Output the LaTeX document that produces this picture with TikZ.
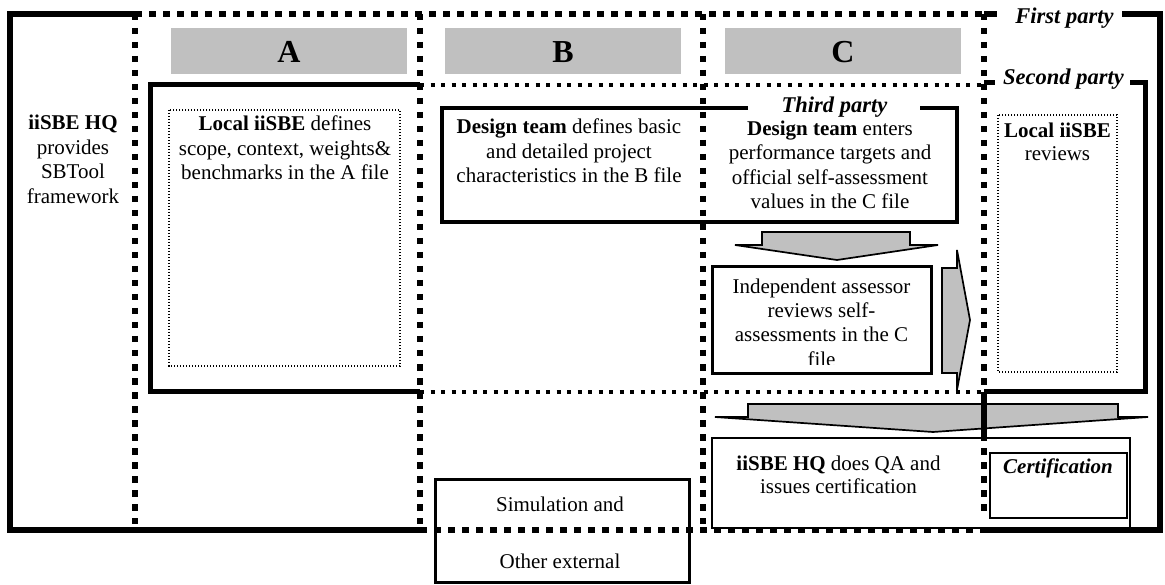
\documentclass[tikz,border=0pt]{standalone}
\usepackage{fontspec}
\setmainfont{Liberation Serif}
\definecolor{hdrgray}{RGB}{192,192,192}
\begin{document}
\begin{tikzpicture}[x=1pt,y=-1pt,line join=miter,
  firstline/.style={line width=6.5pt},
  secondline/.style={line width=5pt},
  bigdots/.style={line width=5.5pt,dash pattern=on 6.5pt off 7.5pt},
  smalldots/.style={line width=4pt,dash pattern=on 4pt off 6.5pt},
  finedots/.style={line width=1.2pt,dash pattern=on 1.2pt off 1.8pt},
  hdr/.style={fill=hdrgray,draw=none},
  hdrtxt/.style={font=\fontsize{32}{36}\selectfont\bfseries,inner sep=0pt,anchor=base},
  flow/.style={fill=hdrgray,draw=black,line width=1.7pt},
  txt/.style={font=\fontsize{21}{24.5}\selectfont,align=center,inner sep=0pt,anchor=base},
  lbl/.style={font=\fontsize{22.5}{25}\selectfont\bfseries\itshape,inner sep=0pt,anchor=base}]
\useasboundingbox (0,0) rectangle (1165,585);
\fill[white] (0,0) rectangle (1165,585);

% header bars
\fill[hdr] (171,28) rectangle (407,74);
\fill[hdr] (445,28) rectangle (681,74);
\fill[hdr] (725,28) rectangle (961,74);
\node[hdrtxt] (hA) at (289,63) {A};
\node[hdrtxt] (hB) at (563,63) {B};
\node[hdrtxt] (hC) at (843,63) {C};

% first party outline (solid parts)
\node[lbl] (fp) at (1064.5,23.5) {First party};
\draw[firstline] (135,14) -- (10,14) -- (10,530) -- (420,530);
\draw[firstline] (984,530) -- (1160,530) -- (1160,14) -- (1122,14);
\draw[firstline] (984,14) -- (997,14);

% second party outline (solid parts)
\node[lbl] (sp) at (1063.5,85) {Second party};
\draw[secondline] (420,85) -- (150,85) -- (150,391.5) -- (420,391.5);
\draw[secondline] (984,391.5) -- (1145,391.5) -- (1145,83) -- (1130,83);
\draw[secondline] (984,83) -- (995,83);

% third party box
\node[lbl] (tp) at (834.5,112.5) {Third party};
\draw[line width=3.5pt] (748,108) -- (442,108) -- (442,222) -- (957,222) -- (957,108) -- (920,108);

% local iiSBE dotted boxes
\draw[finedots] (169,110) rectangle (400,366);
\draw[finedots] (998,115) rectangle (1117,372);

% arrows
\draw[flow] (762,245) -- (762,232) -- (910,232) -- (910,245) -- (938,245) -- (837,260) -- (735,245) -- cycle;
\draw[flow] (942,268) -- (957,268) -- (957,250) -- (970,320) -- (957,390) -- (957,373) -- (942,373) -- cycle;
\draw[flow] (748,417) -- (748,404) -- (1118,404) -- (1118,417) -- (1148,417) -- (933,432) -- (715,417) -- cycle;

% boxes
\draw[line width=3pt] (712,267) rectangle (931,373);
\draw[line width=2.5pt] (712,438) rectangle (1130,528);
\draw[line width=2.5pt] (990,453) rectangle (1127,518);
\draw[line width=3pt] (435,479) rectangle (689,582);

% dotted grid
\draw[bigdots] (135,14) -- (984,14);
\draw[bigdots] (135,14) -- (135,524);
\draw[bigdots] (420,14) -- (420,524);
\draw[bigdots] (703,14) -- (703,524);
\draw[bigdots] (984,14) -- (984,518);
\draw[smalldots] (420,85) -- (984,85);
\draw[smalldots] (420,392) -- (984,392);
\draw[bigdots] (420,530) -- (984,530);
\draw[line width=5.5pt] (984,392) -- (984,437);

% texts (base anchor = baseline of the last line)
\node[txt] (hq) at (73,203.5) {\textbf{iiSBE HQ}\\provides\\SBTool\\framework};
\node[txt] (la) at (285,180) {\textbf{Local iiSBE} defines\\scope, context, weights\&\\benchmarks in the A file};
\node[txt] (db) at (569,183) {\textbf{Design team} defines basic\\and detailed project\\characteristics in the B file};
\node[txt] (dc) at (830,209) {\textbf{Design team} enters\\performance targets and\\official self-assessment\\values in the C file};
\begin{scope}
\clip (712,267) rectangle (931,365);
\node[txt] (ia) at (821.5,366.5) {Independent assessor\\reviews self-\\assessments in the C\\file};
\end{scope}
\node[txt,font=\fontsize{21}{23}\selectfont] (lr) at (1057.5,161) {\textbf{Local iiSBE}\\reviews};
\node[txt,font=\fontsize{21}{23.5}\selectfont] (qa) at (838.5,493.5) {\textbf{iiSBE HQ} does QA and\\issues certification};
\node[txt,font=\fontsize{21}{24}\selectfont\bfseries\itshape] (cert) at (1058,473) {Certification};
\node[txt] (sim) at (560,511) {Simulation and};
\node[txt] (oth) at (560,568) {Other external};
\end{tikzpicture}
\end{document}
